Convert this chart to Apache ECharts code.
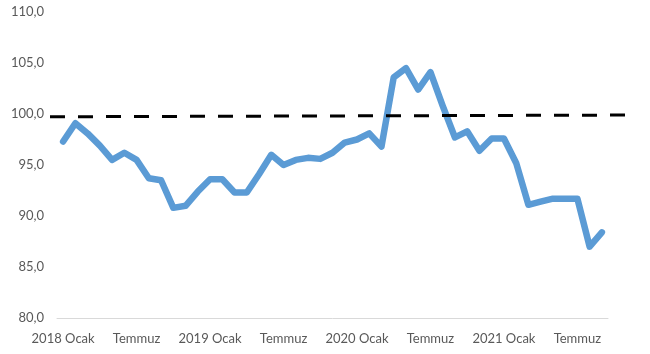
<!DOCTYPE html>
<html>
<head>
<meta charset="utf-8">
<script src="https://cdn.jsdelivr.net/npm/echarts@6/dist/echarts.min.js"></script>
<style>
  html, body { margin: 0; padding: 0; background: #fff; }
  #main { width: 650px; height: 354px; }
</style>
</head>
<body>
<div id="main"></div>
<script>
// aylar (Ocak 2018 - Eylül 2021)
var months = ['Ocak','Şubat','Mart','Nisan','Mayıs','Haziran','Temmuz','Ağustos','Eylül','Ekim','Kasım','Aralık'];
var years = [2018, 2019, 2020, 2021];
var lastMonth = 9; // 2021 Eylül

var categories = [];
for (var y = 0; y < years.length; y++) {
  for (var m = 0; m < 12; m++) {
    if (years[y] == 2021 && m >= lastMonth) break;
    categories.push(m == 0 ? years[y] + ' Ocak' : months[m]);
  }
}

// endeks değerleri
var values = [
  97.3, 99.1, 98.1, 96.9, 95.5, 96.2, 95.5, 93.7, 93.5, 90.8, 91.0, 92.4,
  93.6, 93.6, 92.3, 92.3, 94.1, 96.0, 95.0, 95.5, 95.7, 95.6, 96.2, 97.2,
  97.5, 98.1, 96.8, 103.6, 104.5, 102.4, 104.1, 100.8, 97.7, 98.3, 96.4, 97.6,
  97.6, 95.2, 91.1, 91.4, 91.7, 91.7, 91.7, 87.0, 88.4
];

// kesikli referans çizgisi (sol ve sağ uç)
var refLine = [[0, 99.73], [1, 99.9]];

var yTicks = { min: 80, max: 110, interval: 5 };

var dom = document.getElementById('main');
var myChart = echarts.init(dom);

var labelFont = {
  color: '#595959',
  fontFamily: 'Lato',
  fontSize: 13
};

var option = {
  animation: false,
  backgroundColor: '#fff',
  grid: [
    { left: 57, right: 42, top: 12, bottom: 36 },
    { left: 50, right: 15, top: 12, bottom: 36 }
  ],
  xAxis: [{
    type: 'category',
    gridIndex: 0,
    data: categories,
    boundaryGap: true,
    axisLine: { lineStyle: { color: '#d9d9d9', width: 1 } },
    axisTick: { show: false },
    axisLabel: Object.assign({ interval: 5, margin: 14 }, labelFont)
  }, {
    type: 'value',
    gridIndex: 1,
    min: 0,
    max: 1,
    show: false
  }],
  yAxis: [{
    type: 'value',
    gridIndex: 0,
    min: yTicks.min,
    max: yTicks.max,
    interval: yTicks.interval,
    axisLine: { show: false },
    axisTick: { show: false },
    splitLine: { show: false },
    axisLabel: Object.assign({
      margin: 13,
      formatter: function (v) { return v.toFixed(1).replace('.', ','); }
    }, labelFont)
  }, {
    type: 'value',
    gridIndex: 1,
    min: yTicks.min,
    max: yTicks.max,
    show: false
  }],
  series: [{
    type: 'line',
    xAxisIndex: 0,
    yAxisIndex: 0,
    data: values,
    symbol: 'none',
    lineStyle: { color: '#5B9BD5', width: 6.5, join: 'round', cap: 'round' },
    z: 2
  }, {
    type: 'line',
    xAxisIndex: 1,
    yAxisIndex: 1,
    data: refLine,
    symbol: 'none',
    lineStyle: { color: '#000', width: 3, type: [15, 13] },
    z: 3
  }]
};

myChart.setOption(option, true);
</script>
</body>
</html>
